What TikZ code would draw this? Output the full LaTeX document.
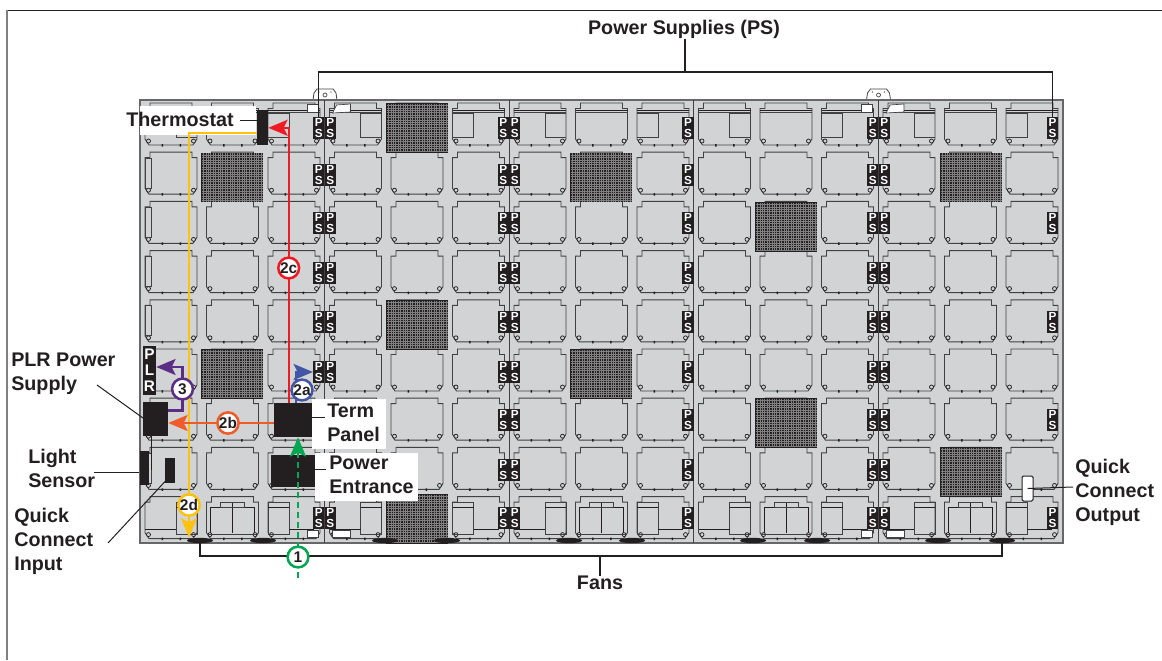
\documentclass[tikz,border=0pt]{standalone}
\usepackage{fontspec}
\setmainfont{Liberation Sans}
\usepackage{xcolor}
\usetikzlibrary{arrows.meta,shapes.geometric}
\definecolor{inkblack}{HTML}{231F20}
\definecolor{panelgray}{HTML}{D1D3D4}
\definecolor{edgegray}{HTML}{414042}
\definecolor{flowred}{HTML}{ED1C24}
\definecolor{floworange}{HTML}{F15A29}
\definecolor{flowblue}{HTML}{4355A5}
\definecolor{flowgreen}{HTML}{00A651}
\definecolor{flowpurple}{HTML}{5C2D84}
\definecolor{flowyellow}{HTML}{FFC20E}
\tikzset{
  lbl/.style={font=\bfseries\fontsize{14.8}{18}\selectfont, text=inkblack, align=left, anchor=west, inner sep=0pt},
  psbox/.style={fill=inkblack, text=white, font=\bfseries\fontsize{8.8}{8.6}\selectfont, align=center, inner sep=0pt, minimum width=8.4pt, minimum height=16.8pt},
  blackbox/.style={fill=inkblack, inner sep=0pt},
  fanpad/.style={ellipse, fill=inkblack, inner sep=0pt, minimum width=19.5pt, minimum height=4pt},
  leader/.style={draw=inkblack, line width=.75pt},
  bus/.style={draw=inkblack, line width=1pt},
  flow/.style={line width=1.75pt, -{Stealth[length=14.5pt,width=12pt,inset=3pt]}},
  ring/.style={circle, fill=white, line width=1.9pt, inner sep=0pt, minimum size=15.6pt, text=inkblack, font=\bfseries\fontsize{11.6}{11.6}\selectfont},
  panelcell/.pic={
    \draw[edgegray, line width=.7pt] (5,0)--(47,0)--(47,5.5)--(52,5.5)--(52,36)--(48,42)--(4,42)--(0,36)--(0,5.5)--(5,5.5)--cycle;
    \draw[inkblack, line width=.55pt, fill=panelgray] (3.5,38) circle (2) (48.5,38) circle (2);
    \fill[inkblack] (16.5,41) rectangle (18,43.5) (34.5,41) rectangle (36,43.5);
  },
  darktile/.pic={
    \fill[inkblack] (0,0) rectangle (62,49.5);
    \foreach \k in {1,...,25} {\draw[black!50, line width=.25pt] (\k*2.4,.5)--(\k*2.4,49);}
    \foreach \k in {1,...,20} {\draw[black!50, line width=.25pt] (.5,\k*2.4)--(61.5,\k*2.4);}
  },
  topclip/.pic={
    \draw[edgegray, line width=.6pt, fill=white] (-12,0)--(-11,-7)--(-8,-11)--(8,-11)--(11,-7)--(12,0);
    \draw[edgegray, line width=.5pt] (0,-5) circle (2);
    \fill[inkblack] (-6,-8) circle (.7) (6,-8) circle (.7);
  }
}

\begin{document}
\begin{tikzpicture}[x=.75pt,y=-.75pt]
\useasboundingbox (0,0) rectangle (1162,660);
\draw[inkblack, line width=.6pt] (6,10)--(1162,10);
\draw[gray, line width=1.4pt] (7,10)--(7,660);

\pic at (325,100) {topclip};
\pic at (878.5,100) {topclip};
\draw[fill=panelgray, draw=edgegray!80, line width=1.3pt] (140,100) rectangle (1063,543);

\foreach \c in {0,...,14} {
  \pgfmathsetmacro\cx{145+61.5*\c}
  \pgfmathtruncatemacro\m{mod(\c,3)}
  \foreach \r in {0,...,8} {
    \pgfmathsetmacro\cy{103+49.2*\r}
    \pic at (\cx,\cy) {panelcell};
  }
  \draw[inkblack, line width=.7pt] (\cx,110)--(\cx+52,110);
  \draw[edgegray, line width=.5pt] (\cx,112)--(\cx+52,112);
  \ifnum\m=0
    \draw[edgegray, line width=.6pt] (\cx+31,113)--(\cx+52,113) (\cx+31,113)--(\cx+31,137)--(\cx+52,137);
    \draw[edgegray, line width=.6pt] (\cx+31,502) rectangle (\cx+52,534);
    \draw[inkblack, line width=.5pt] (\cx+31,507)--(\cx+52,507) (\cx,529)--(\cx+31,529);
  \fi
  \ifnum\m=1
    \draw[inkblack, line width=.6pt] (\cx+4,507)--(\cx+48,507) (\cx+4,507)--(\cx+4,533) (\cx+48,507)--(\cx+48,533) (\cx+26,503)--(\cx+26,533);
    \draw[edgegray, line width=.5pt] (\cx+14,502) rectangle (\cx+38,507) (\cx+1,534)--(\cx+51,534);
  \fi
  \ifnum\m=2
    \draw[edgegray, line width=.6pt] (\cx,113)--(\cx+21,113) (\cx+21,113)--(\cx+21,137)--(\cx,137);
    \draw[edgegray, line width=.6pt] (\cx,502) rectangle (\cx+21,534);
    \draw[inkblack, line width=.5pt] (\cx,507)--(\cx+21,507) (\cx+21,529)--(\cx+46,529);
  \fi
}
\foreach \r in {1,...,7} {
  \draw[edgegray, line width=.6pt] (145,{109+49.2*\r}) rectangle (151,{139+49.2*\r});
}
\foreach \sx in {324.5,509,693.5,878} {
  \draw[edgegray, line width=.7pt] (\sx,100)--(\sx,543);
}
\foreach \sx in {324.5,878} {
  \draw[edgegray, line width=.5pt, fill=white] (\sx-17,104) rectangle (\sx-6,112);
  \draw[edgegray, line width=.5pt, fill=white] (\sx+8,113)--(\sx+12,105)--(\sx+26,104)--(\sx+26,112)--cycle;
  \draw[edgegray, line width=.5pt, fill=white] (\sx-17,530) rectangle (\sx-6,537);
  \draw[edgegray, line width=.5pt, fill=white] (\sx+8,530) rectangle (\sx+26,537);
}

\foreach \tx/\ty in {386/103,201/152.5,570/152.5,940/152.5,755/202,386/300,201/349,570/349,755/398,940/447,386/494} {
  \pic at (\tx,\ty) {darktile};
}

\foreach \yy [count=\r] in {128,175,223,273,322,372,518} {
  \node[psbox] (pa\r) at (318.8,\yy) {P\\S};
  \node[psbox] (pb\r) at (330.2,\yy) {P\\S};
}
\foreach \yy [count=\r] in {128,175,223,273,322,372,420,470,518} {
  \node[psbox] (pc\r) at (503.2,\yy) {P\\S};
  \node[psbox] (pd\r) at (514.8,\yy) {P\\S};
  \node[psbox] (pf\r) at (688,\yy) {P\\S};
  \node[psbox] (pg\r) at (872.8,\yy) {P\\S};
  \node[psbox] (ph\r) at (884.2,\yy) {P\\S};
}
\foreach \yy [count=\r] in {128,223,322,420,518} {
  \node[psbox] (pe\r) at (1052.5,\yy) {P\\S};
}

\foreach \fx [count=\i] in {200,263,385,447,569,632,753,817,938,1002} {
  \node[fanpad] (fan\i) at (\fx,540.5) {};
}

\fill[white] (140,106) rectangle (256,135);
\fill[white] (312,399) rectangle (386,449);
\fill[white] (315,453) rectangle (418,501);

\node[blackbox, minimum width=8.25pt, minimum height=26pt] (thermbox) at (262.5,127.8) {};
\node[blackbox, minimum width=28.5pt, minimum height=25.5pt] (termbox) at (293,420) {};
\node[blackbox, minimum width=33pt, minimum height=24pt] (entrybox) at (293,471) {};
\node[blackbox, minimum width=18.75pt, minimum height=25.5pt] (plrbox) at (155.5,419) {};
\node[blackbox, minimum width=7pt, minimum height=25.5pt] (lightbox) at (144.3,468) {};
\node[blackbox, minimum width=7.5pt, minimum height=18.75pt] (qcinbox) at (170,470.5) {};
\node[fill=inkblack, text=white, font=\bfseries\fontsize{11.5}{12}\selectfont, align=center, inner sep=0pt, minimum width=9.75pt, minimum height=37pt] (plrtag) at (149.5,370.5) {P\\L\\R};
\node[draw=inkblack, fill=white, line width=.75pt, rounded corners=1pt, inner sep=0pt, minimum width=8.25pt, minimum height=18.75pt] (qcoutbox) at (1027.5,488.5) {};

\node[lbl, anchor=center] (pslbl) at (684,29.5) {Power Supplies (PS)};
\node[lbl] (thermlbl) at (126,119) {Thermostat};
\node[lbl] (plrlbl) at (11,374) {PLR Power\\Supply};
\node[lbl] (termlbl) at (327,423) {Term\\Panel};
\node[lbl] (entrylbl) at (329,474.5) {Power\\Entrance};
\node[lbl] (lightlbl) at (28,468) {Light\\Sensor};
\node[lbl] (qcinlbl) at (14,541.5) {Quick\\Connect\\Input};
\node[lbl] (qcoutlbl) at (1075,492.5) {Quick\\Connect\\Output};
\node[lbl, anchor=center] (fanslbl) at (600,583) {Fans};

\coordinate (psbus) at (685,72);
\coordinate (fanbus) at (600,556);
\coordinate (thermtip) at (240,120);
\coordinate (termtip) at (325,417);
\coordinate (entrytip) at (326,469);
\coordinate (plrtip) at (97,385);
\coordinate (lighttip) at (94,472);
\coordinate (qcintip) at (108,543);
\coordinate (qcouttip) at (1073,487);
\coordinate (plrhook) at (143,418);
\coordinate (qchook) at (165.5,481);
\coordinate (r1) at (298,557);
\coordinate (r2a) at (302,390);
\coordinate (r2b) at (228,423);
\coordinate (r2c) at (288.7,268);
\coordinate (r2d) at (189,505);
\coordinate (r3) at (182.5,389);
\coordinate (gfoot) at (298,578);
\coordinate (bturn) at (296,371);
\coordinate (ycorner) at (189,133);
\coordinate (plow) at (182.5,410.5);
\coordinate (phigh) at (182.5,367);
\coordinate (seamdrop) at (151.5,470);

\draw[bus] (pslbl.south -| psbus) -- (psbus);
\draw[bus] (pa1.north) -- (pa1.north |- psbus) -- (pe1.north |- psbus) -- (pe1.north);
\draw[bus] (fan1.south) -- (fan1.south |- fanbus) -- (fan10.south |- fanbus) -- (fan10.south);
\draw[bus] (fanslbl.north) -- (fanbus);
\draw[leader] (thermtip) -- (thermbox.west |- thermtip);
\draw[leader] (termbox.east |- termtip) -- (termtip);
\draw[leader] (entrybox.east |- entrytip) -- (entrytip);
\draw[leader] (plrtip) -- (plrhook);
\draw[leader] (lighttip) -- (lightbox.west |- lighttip);
\draw[leader] (qcintip) -- (qchook);
\draw[leader] (qcoutbox.center) -- (qcouttip);
\draw[inkblack, line width=.5pt] (plrbox.south -| seamdrop) -- (seamdrop);

\draw[flow, flowyellow] (thermbox.west |- ycorner) -- (ycorner) -- (ycorner |- fan1.north);
\draw[flow, flowred] (termbox.north -| r2c) -- (r2c) |- (thermbox.east);
\draw[flow, flowblue] (termbox.north -| bturn) |- (pa6.west);
\draw[flow, floworange] (termbox.west |- r2b) -- (plrbox.east |- r2b);
\draw[flow, flowpurple] (plrbox.east |- plow) -- (plow) -- (phigh) -- (plrtag.east |- phigh);
\draw[flow, flowgreen, dash pattern=on 4.5pt off 3pt] (gfoot) -- (termbox.south -| gfoot);

\node[ring, draw=flowgreen] (ring1) at (r1) {1};
\node[ring, draw=flowblue] (ring2a) at (r2a) {2a};
\node[ring, draw=floworange] (ring2b) at (r2b) {2b};
\node[ring, draw=flowred] (ring2c) at (r2c) {2c};
\node[ring, draw=flowyellow] (ring2d) at (r2d) {2d};
\node[ring, draw=flowpurple] (ring3) at (r3) {3};
\end{tikzpicture}
\end{document}
